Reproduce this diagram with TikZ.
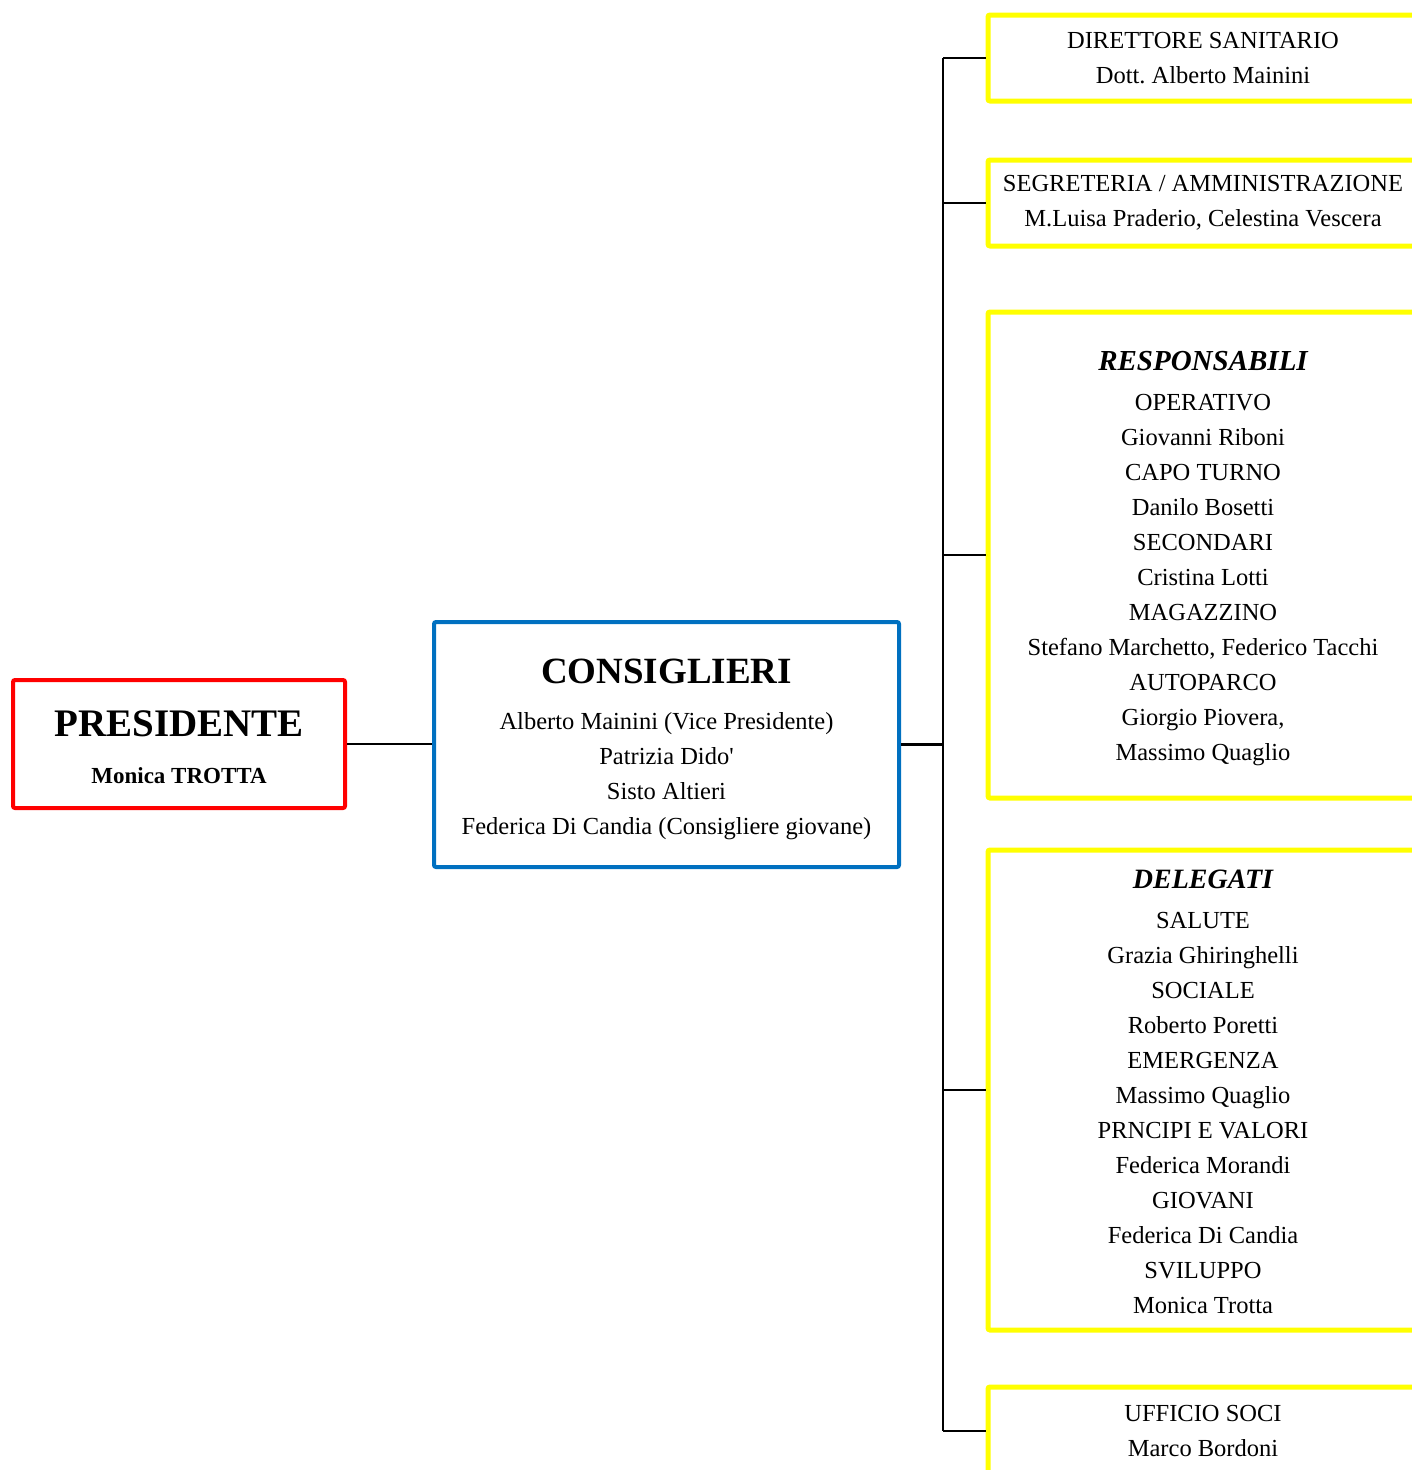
\documentclass[tikz,border=0pt]{standalone}
\usepackage{fontspec}
\setmainfont{Liberation Serif}
\usetikzlibrary{positioning}
\definecolor{presred}{RGB}{255,0,0}
\definecolor{consblue}{RGB}{0,112,192}
\definecolor{uffyellow}{RGB}{255,255,0}
\newcommand{\giu}[1]{\rule{0pt}{#1}}

\begin{document}
\frenchspacing
\begin{tikzpicture}[x=1pt,y=-1pt,
  box/.style={draw,rounded corners=2pt,align=center,inner sep=0pt,
    font=\fontsize{24.5}{35}\selectfont},
  ufficio/.style={box,draw=uffyellow,line width=5pt,minimum width=430pt},
  ramo/.style={line width=1.6pt}]
  \useasboundingbox (0,0) rectangle (1412,1470);
  \clip (0,0) rectangle (1412,1470);

  % organigramma: presidente -> consiglieri -> uffici
  \node[box,draw=presred,line width=4pt,minimum width=332pt,minimum height=128pt]
    (pres) at (179,744)
    {\giu{32pt}{\fontsize{39}{35}\selectfont\bfseries PRESIDENTE}\\[12pt]
     {\fontsize{23}{35}\selectfont\bfseries Monica TROTTA}};

  \node[box,draw=consblue,line width=4pt,minimum width=465pt,minimum height=245pt]
    (cons) at (666.5,744.5)
    {\giu{35pt}{\fontsize{37}{35}\selectfont\bfseries CONSIGLIERI}\\[11pt]
     Alberto Mainini (Vice Presidente)\\
     Patrizia Dido\textquotesingle\\
     Sisto Altieri\\
     Federica Di Candia (Consigliere giovane)};

  % uffici a destra
  \node[ufficio,minimum height=86pt] (dir) at (1203,58)
    {DIRETTORE SANITARIO\\ Dott. Alberto Mainini};
  \node[ufficio,minimum height=86pt] (segr) at (1203,203)
    {SEGRETERIA / AMMINISTRAZIONE\\ M.Luisa Praderio, Celestina Vescera};
  \node[ufficio,minimum height=486pt] (resp) at (1203,555)
    {\giu{27pt}{\fontsize{29}{35}\selectfont\bfseries\itshape RESPONSABILI}\\[5pt]
     OPERATIVO\\ Giovanni Riboni\\ CAPO TURNO\\ Danilo Bosetti\\
     SECONDARI\\ Cristina Lotti\\ MAGAZZINO\\
     Stefano Marchetto, Federico Tacchi\\ AUTOPARCO\\
     Giorgio Piovera,\\ Massimo Quaglio};
  \node[ufficio,minimum height=480pt] (deleg) at (1203,1090)
    {\giu{23pt}{\fontsize{28}{35}\selectfont\bfseries\itshape DELEGATI}\\[5pt]
     SALUTE\\ Grazia Ghiringhelli\\ SOCIALE\\ Roberto Poretti\\
     EMERGENZA\\ Massimo Quaglio\\ PRNCIPI E VALORI\\ Federica Morandi\\
     GIOVANI\\ Federica Di Candia\\ SVILUPPO\\ Monica Trotta};
  \node[ufficio,minimum height=88pt] (soci) at (1203,1431)
    {UFFICIO SOCI\\ Marco Bordoni};

  % collegamenti
  \coordinate (spine) at (943,744);
  \draw[ramo] (pres.east) -- (pres.east -| cons.west);
  \draw[line width=2.6pt] (cons.east) -- (cons.east -| spine);
  \draw[ramo] (spine |- dir.west) -- (spine |- soci.west);
  \foreach \uff in {dir,segr,resp,deleg,soci}
    \draw[ramo] (spine |- \uff.west) -- (\uff.west);
\end{tikzpicture}
\end{document}
